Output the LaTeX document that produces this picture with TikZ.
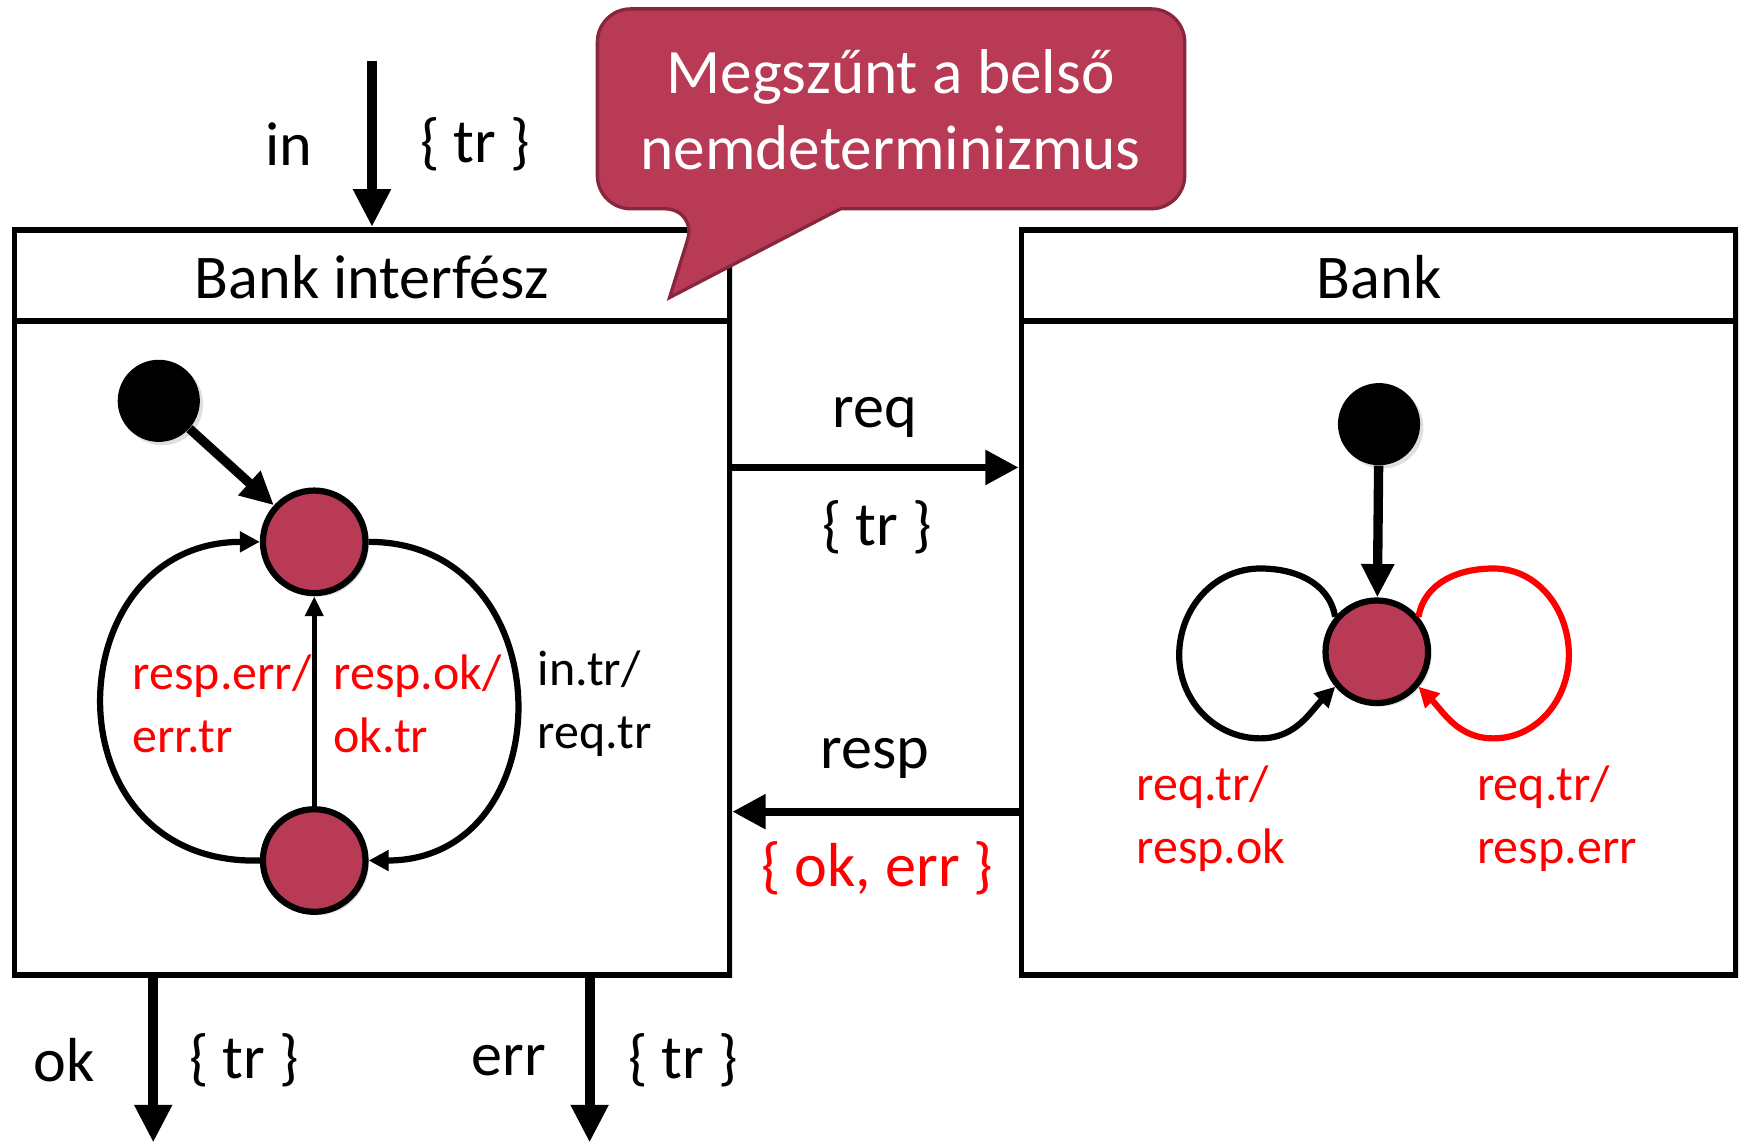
\documentclass[tikz,border=0pt]{standalone}
\usepackage{fontspec}
\setmainfont{Carlito}
\usetikzlibrary{arrows.meta,shadows}
\definecolor{berry}{RGB}{184,58,85}
\definecolor{berrydark}{RGB}{135,38,60}
\begin{document}
\begin{tikzpicture}[x=0.5pt,y=-0.5pt,
  softshadow/.style={drop shadow={opacity=0.25,shadow xshift=1.5pt,shadow yshift=-1.5pt}},
  box/.style={draw,line width=2.6pt,fill=white,inner sep=0,softshadow},
  big/.style={font=\fontsize{28}{34}\selectfont,inner sep=0},
  lbl/.style={font=\fontsize{22.5}{28.5}\selectfont,align=left,inner sep=0},
  state/.style={circle,draw,line width=2.8pt,fill=berry,minimum size=46.2pt,inner sep=0,softshadow},
  initdot/.style={circle,fill=black,minimum size=37pt,inner sep=0,softshadow},
  port/.style={line width=4.5pt,-{Triangle[length=17pt,width=16pt]}},
  chan/.style={line width=3.5pt,-{Triangle[length=15pt,width=15pt]}},
  initarrow/.style={line width=4.2pt,-{Triangle[length=15pt,width=14pt]}},
  arc/.style={line width=2.8pt,-{Triangle[length=9pt,width=9pt]}},
  thinarc/.style={line width=2.3pt,-{Triangle[length=9pt,width=8pt]}},
  callout/.style={fill=berry,draw=berrydark,line width=1.5pt}
]
\useasboundingbox (0,0) rectangle (1568,1029);

% boxes
\node[box,minimum width=322pt,minimum height=335.5pt] (lbox) at (335,542.5) {};
\node[box,minimum width=321.5pt,minimum height=335.5pt] (rbox) at (1241.5,542.5) {};
\coordinate (hy) at (0,289);
\draw[line width=2.6pt] (lbox.west |- hy) -- (lbox.east |- hy);
\draw[line width=2.6pt] (rbox.west |- hy) -- (rbox.east |- hy);
\node[big] (ltitle) at (335,250) {Bank interfész};
\node[big] (rtitle) at (1242,250) {Bank};

% callout
\draw[callout] (628,188) -- (603,268) -- (757,188) [rounded corners=15pt] -- (1067,188) -- (1067,8) -- (538,8) -- (538,188) -- cycle;
\node[font=\fontsize{28.5}{34}\selectfont,text=white,align=center,inner sep=0] (ctext) at (802,99) {Megszűnt a belső\\nemdeterminizmus};

% input port
\coordinate (inS) at (335,55);
\draw[port] (inS) -- (inS |- lbox.north);
\node[big] (inl) at (260,130) {in};
\node[big] (inset) at (428,130) {\{ tr \}};

% output ports
\coordinate (okE) at (138,1029);
\coordinate (errE) at (531,1029);
\draw[port] (okE |- lbox.south) -- (okE);
\draw[port] (errE |- lbox.south) -- (errE);
\node[big] (okl) at (58,955) {ok};
\node[big] (okset) at (220,955) {\{ tr \}};
\node[big] (errl) at (458,955) {err};
\node[big] (errset) at (615,955) {\{ tr \}};

% channels
\coordinate (reqy) at (0,421);
\coordinate (respy) at (0,731);
\draw[chan] (lbox.east |- reqy) -- (rbox.west |- reqy);
\draw[chan] (rbox.west |- respy) -- (lbox.east |- respy);
\node[big] (reql) at (788,376) {req};
\node[big] (reqset) at (790,475) {\{ tr \}};
\node[big] (respl) at (788,683) {resp};
\node[big,text=red] (respset) at (790,782) {\{ ok, err \}};

% left state machine
\node[initdot] (a0) at (143,361) {};
\node[state] (s1) at (283,488) {};
\node[state] (s2) at (283,775) {};
\draw[initarrow] (a0) -- (s1);
\draw[thinarc] (s2) -- (s1);
\draw[arc] (s2.west) .. controls (40,780) and (50,488) .. (s1.west);
\draw[arc] (s1.east) .. controls (509,488) and (509,775) .. (s2.east);
\node[lbl,text=red,anchor=west] (l1) at (119,634) {resp.err/\\err.tr};
\node[lbl,text=red,anchor=west] (l2) at (300,634) {resp.ok/\\ok.tr};
\node[lbl,anchor=west] (l3) at (484,634) {in.tr/\\req.tr};

% right state machine
\node[initdot] (b0) at (1242,382) {};
\node[state] (b1) at (1240,587) {};
\draw[initarrow] (b0) -- (b1);
\draw[arc] (b1.140) to[out=100,in=0] (1135,512) to[out=180,in=90] (1062,590) to[out=270,in=180] (1135,665) to[out=0,in=225] (b1.220);
\draw[arc,red] (b1.40) to[out=80,in=180] (1345,512) to[out=0,in=90] (1413,590) to[out=270,in=0] (1345,665) to[out=180,in=-45] (b1.-40);
\node[lbl,text=red,anchor=west] (r1) at (1023,737) {req.tr/\\resp.ok};
\node[lbl,text=red,anchor=west] (r2) at (1330,737) {req.tr/\\resp.err};
\end{tikzpicture}
\end{document}
